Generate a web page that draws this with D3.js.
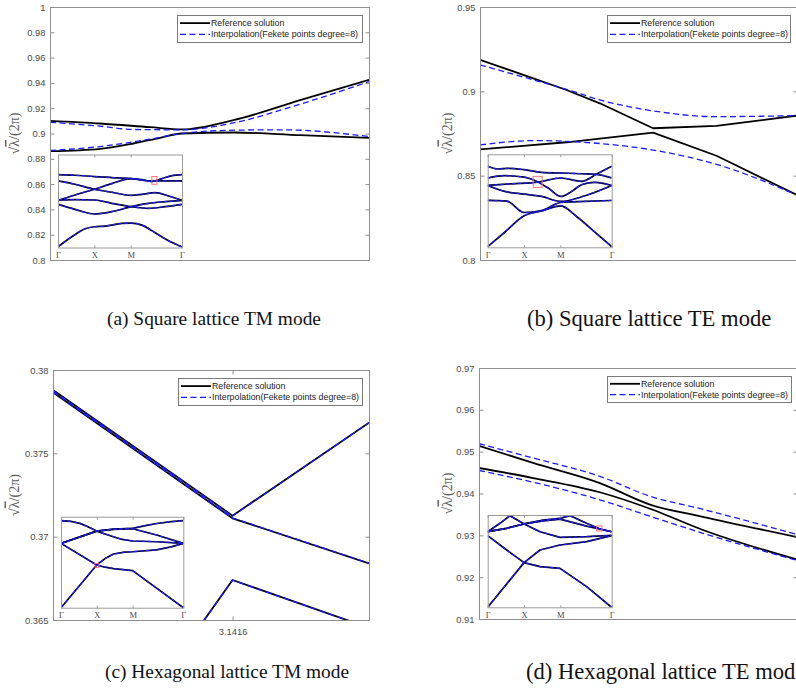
<!DOCTYPE html>
<html><head><meta charset="utf-8">
<script src="https://cdn.jsdelivr.net/npm/d3@7"></script>
<style>body{margin:0;background:#fff}svg{display:block}</style>
</head><body>
<svg id="c" width="796" height="700"></svg>
<script>
// ================= DATA =================
const legendLabels = ["Reference solution", "Interpolation(Fekete points degree=8)"];
const captionLabels = ["(a) Square lattice TM mode", "(b) Square lattice TE mode",
                       "(c) Hexagonal lattice TM mode", "(d) Hexagonal lattice TE mode"];
const insetTickLabels = ["Γ", "X", "M", "Γ"];
const insetTickValues = [0, 0.293, 0.586, 1];

const yTicksA = [0.8, 0.82, 0.84, 0.86, 0.88, 0.9, 0.92, 0.94, 0.96, 0.98, 1];
const yTicksB = [0.8, 0.85, 0.9, 0.95];
const yTicksC = [0.365, 0.37, 0.375, 0.38];
const yTicksD = [0.91, 0.92, 0.93, 0.94, 0.95, 0.96, 0.97];
const xTicksC = [3.1416];

// (a) square TM, zoomed window (x = fraction of window)
const aRefUpper = [[0,0.910],[0.157,0.9079],[0.313,0.905],[0.413,0.9032],[0.575,0.9105],[0.784,0.9263],[1,0.9424]];
const aRefLower = [[0,0.886],[0.157,0.8879],[0.261,0.8921],[0.345,0.8966],[0.413,0.900],[0.575,0.9008],[0.784,0.8987],[1,0.8966]];
const aIntUpper = [[0,0.9089],[0.157,0.9058],[0.261,0.9032],[0.413,0.9029],[0.575,0.9084],[0.784,0.9232],[1,0.941]];
const aIntLower = [[0,0.8866],[0.157,0.8897],[0.313,0.8955],[0.413,0.900],[0.575,0.9026],[0.731,0.9029],[1,0.8976]];

// (b) square TE
const bRefA = [[0,0.9187],[0.168,0.9077],[0.273,0.9008],[0.378,0.8929],[0.546,0.8781],[0.746,0.8795],[1,0.8856]];
const bRefB = [[0,0.8656],[0.273,0.8698],[0.546,0.8755],[0.746,0.8618],[1,0.8385]];
const bIntUpper = [[0,0.9157],[0.168,0.9068],[0.273,0.9012],[0.378,0.8949],[0.546,0.8884],[0.746,0.885],[1,0.8856]];
const bIntLower = [[0,0.8682],[0.168,0.8708],[0.326,0.8698],[0.546,0.8652],[0.746,0.8567],[1,0.8385]];

// (c) hexagonal TM (x = wave number)
const cRefUpper  = [[3.0416,0.37880],[3.1416,0.37126],[3.2176,0.37684]];
const cRefMiddle = [[3.0416,0.37866],[3.1416,0.37110],[3.2176,0.36840]];
const cRefLower  = [[3.11,0.36259],[3.1416,0.36740],[3.2176,0.36453]];
const cIntUpper  = [[3.0416,0.37877],[3.1416,0.37124],[3.2176,0.37684]];
const cIntMiddle = [[3.0416,0.37869],[3.1416,0.37112],[3.2176,0.36841]];
const cIntLower  = [[3.11,0.36259],[3.1416,0.36739],[3.2176,0.36453]];

// (d) hexagonal TE
const dRefUpper = [[0,0.9514],[0.17,0.9473],[0.38,0.9425],[0.54,0.9373],[0.70,0.9345],[1,0.9296]];
const dRefLower = [[0,0.9461],[0.17,0.9437],[0.38,0.9403],[0.54,0.9363],[0.70,0.9314],[1,0.9242]];
const dIntUpper = [[0,0.9519],[0.17,0.9485],[0.38,0.9441],[0.54,0.9393],[0.70,0.9363],[1,0.9302]];
const dIntLower = [[0,0.9455],[0.17,0.9427],[0.38,0.9385],[0.54,0.9345],[0.70,0.9306],[1,0.924]];

// insets: full band structures Γ-X-M-Γ (normalised path, normalised frequency)
const insetBandsA = [
  [[0,0.007],[0.111,0.115],[0.218,0.201],[0.294,0.223],[0.380,0.230],[0.515,0.259],[0.590,0.263],[0.677,0.241],[0.784,0.158],[0.892,0.072],[1,0.007]],
  [[0,0.464],[0.137,0.410],[0.294,0.360],[0.434,0.385],[0.590,0.439],[0.730,0.475],[0.865,0.493],[1,0.507]],
  [[0,0.511],[0.137,0.514],[0.294,0.511],[0.434,0.475],[0.590,0.439],[0.730,0.421],[0.865,0.439],[1,0.464]],
  [[0,0.507],[0.137,0.565],[0.294,0.626],[0.434,0.687],[0.590,0.741],[0.677,0.723],[0.757,0.716],[0.865,0.716],[1,0.716]],
  [[0,0.716],[0.137,0.680],[0.294,0.626],[0.434,0.594],[0.590,0.561],[0.677,0.572],[0.784,0.590],[0.892,0.554],[1,0.507]],
  [[0,0.784],[0.137,0.777],[0.294,0.763],[0.434,0.752],[0.590,0.741],[0.677,0.730],[0.757,0.709],[0.838,0.741],[0.919,0.773],[1,0.784]]
];
const insetBandsB = [
  [[0,0.007],[0.137,0.162],[0.294,0.338],[0.434,0.390],[0.590,0.446],[0.717,0.331],[0.85,0.18],[1,0.007]],
  [[0,0.504],[0.154,0.497],[0.294,0.374],[0.434,0.395],[0.590,0.482],[0.784,0.493],[1,0.504]],
  [[0,0.665],[0.137,0.601],[0.294,0.572],[0.434,0.547],[0.590,0.493],[0.784,0.554],[1,0.665]],
  [[0,0.665],[0.191,0.683],[0.407,0.701],[0.590,0.745],[0.757,0.709],[0.879,0.788],[1,0.871]],
  [[0,0.745],[0.137,0.770],[0.294,0.755],[0.380,0.719],[0.488,0.637],[0.590,0.547],[0.677,0.601],[0.757,0.673],[0.865,0.698],[1,0.665]],
  [[0,0.871],[0.084,0.842],[0.164,0.849],[0.294,0.835],[0.434,0.806],[0.590,0.799],[0.757,0.791],[0.879,0.784],[1,0.745]]
];
const insetBandsC = [
  [[0,0],[0.292,0.469],[0.36,0.54],[0.43,0.59],[0.52,0.61],[0.586,0.615],[0.782,0.636],[0.9,0.668],[1,0.707]],
  [[0,0.707],[0.292,0.469],[0.36,0.445],[0.43,0.43],[0.586,0.407],[1,0]],
  [[0,0.707],[0.292,0.842],[0.428,0.864],[0.586,0.872],[0.70,0.905],[0.782,0.925],[0.9,0.945],[1,0.956]],
  [[0,0.956],[0.08,0.948],[0.155,0.927],[0.22,0.89],[0.292,0.842],[0.36,0.81],[0.428,0.780],[0.5,0.75],[0.586,0.733],[0.782,0.725],[1,0.707]],
  [[0,0.707],[0.292,0.842],[0.428,0.860],[0.586,0.868],[0.782,0.799],[1,0.707]]
];
const insetBandsD = [
  [[0,0],[0.293,0.484],[0.422,0.440],[0.583,0.422],[0.798,0.224],[1,0]],
  [[0,0.776],[0.153,0.621],[0.293,0.484],[0.422,0.621],[0.583,0.675],[0.798,0.711],[1,0.776]],
  [[0,0.819],[0.099,0.910],[0.180,0.993],[0.293,0.903],[0.422,0.819],[0.583,0.758],[0.798,0.765],[1,0.78]],
  [[0,0.819],[0.153,0.856],[0.293,0.903],[0.449,0.946],[0.583,0.964],[0.664,0.993],[0.798,0.910],[0.906,0.848],[1,0.819]],
  [[0,0.819],[0.153,0.856],[0.293,0.903],[0.449,0.935],[0.583,0.955],[0.798,0.880],[1,0.819]]
];
// zoom window markers inside insets [u0,u1,v0,v1]
const zoomBoxA = [0.757, 0.798, 0.680, 0.763];
const zoomBoxB = [0.367, 0.439, 0.644, 0.763];
const zoomBoxC = [0.278, 0.311, 0.443, 0.487];
const zoomBoxD = [0.879, 0.922, 0.827, 0.881];

// ================= DRAWING =================
const svg = d3.select("#c");
const SANS = "'Liberation Sans', Arial, sans-serif";
const SERIF = "'Liberation Serif', 'Times New Roman', serif";
const AX = "#8f8f8f", TXT = "#4a4a4a", BLUE = "#1a1aff";
const fmt = d => String(+d.toFixed(4));

function styleRef(p){ p.attr("fill","none").attr("stroke","#000").attr("stroke-width",1.8).attr("stroke-linejoin","round"); }
function styleInt(p){ p.attr("fill","none").attr("stroke",BLUE).attr("stroke-width",1.3).attr("stroke-dasharray","6,3.5"); }

function drawPanel(cfg, idx){
  const g = svg.append("g");
  const x = d3.scaleLinear().domain(cfg.xDomain).range([cfg.x0, cfg.x1]);
  const y = d3.scaleLinear().domain(cfg.yDomain).range([cfg.y1, cfg.y0]);
  const cid = "clip" + idx;
  svg.append("clipPath").attr("id", cid).append("rect")
    .attr("x", cfg.x0).attr("y", cfg.y0).attr("width", cfg.x1 - cfg.x0).attr("height", cfg.y1 - cfg.y0);

  const lg = g.append("g").attr("clip-path", `url(#${cid})`);
  cfg.series.forEach(s => {
    const line = d3.line().x(d => x(d[0])).y(d => y(d[1])).curve(s.curve || d3.curveLinear);
    const p = lg.append("path").attr("d", line(s.data));
    if (s.kind === "ref") styleRef(p); else styleInt(p);
  });

  g.append("rect").attr("x", cfg.x0 + 0.5).attr("y", cfg.y0 + 0.5)
    .attr("width", cfg.x1 - cfg.x0).attr("height", cfg.y1 - cfg.y0)
    .attr("fill", "none").attr("stroke", AX).attr("stroke-width", 1);

  const yl = g.append("g").attr("transform", `translate(${cfg.x0 + 0.5},0)`)
    .call(d3.axisLeft(y).tickValues(cfg.yTicks).tickFormat(fmt).tickSizeInner(-4).tickSizeOuter(0).tickPadding(5));
  const yr = g.append("g").attr("transform", `translate(${cfg.x1 + 0.5},0)`)
    .call(d3.axisRight(y).tickValues(cfg.yTicks).tickFormat("").tickSizeInner(-4).tickSizeOuter(0));
  [yl, yr].forEach(a => { a.select(".domain").remove(); a.selectAll("line").attr("stroke", AX); });
  yl.selectAll("text").attr("font-family", SANS).attr("font-size", 9.4).attr("fill", TXT);
  if (cfg.xTicks) {
    const xb = g.append("g").attr("transform", `translate(0,${cfg.y1 + 0.5})`)
      .call(d3.axisBottom(x).tickValues(cfg.xTicks).tickFormat(fmt).tickSizeInner(-4).tickSizeOuter(0).tickPadding(8));
    const xt = g.append("g").attr("transform", `translate(0,${cfg.y0 + 0.5})`)
      .call(d3.axisTop(x).tickValues(cfg.xTicks).tickFormat("").tickSizeInner(-4).tickSizeOuter(0));
    [xb, xt].forEach(a => { a.select(".domain").remove(); a.selectAll("line").attr("stroke", AX); });
    xb.selectAll("text").attr("font-family", SANS).attr("font-size", 9.4).attr("fill", TXT);
  }

  const yc = (cfg.y0 + cfg.y1) / 2;
  const t = g.append("text").attr("transform", `translate(${cfg.labelX},${yc}) rotate(-90)`)
    .attr("text-anchor", "middle").attr("dominant-baseline", "central")
    .attr("font-family", SERIF).attr("font-size", 14).attr("fill", "#5a5a5a");
  t.append("tspan").text("√");
  t.append("tspan").attr("style", "text-decoration: overline").text("λ");
  t.append("tspan").text("/(2π)");

  const L = cfg.legend;
  const leg = g.append("g");
  leg.append("rect").attr("x", L.x + 0.5).attr("y", L.y + 0.5).attr("width", L.w).attr("height", L.h)
    .attr("fill", "#fff").attr("stroke", "#7a7a7a").attr("stroke-width", 1);
  legendLabels.forEach((lab, i) => {
    const ry = L.y + L.h * (i === 0 ? 0.3 : 0.72);
    const p = leg.append("line").attr("x1", L.x + 3).attr("x2", L.x + 33).attr("y1", ry).attr("y2", ry);
    if (i === 0) p.attr("stroke", "#000").attr("stroke-width", 1.8);
    else p.attr("stroke", BLUE).attr("stroke-width", 1.3).attr("stroke-dasharray", "6,3.5");
    leg.append("text").attr("x", L.x + 34).attr("y", ry).attr("dominant-baseline", "central")
      .attr("font-family", SANS).attr("font-size", 8.8).attr("fill", "#222").text(lab);
  });

  const I = cfg.inset;
  const ix = d3.scaleLinear().domain([0, 1]).range([I.x, I.x + I.w]);
  const iy = d3.scaleLinear().domain([0, 1]).range([I.y + I.h, I.y]);
  const ig = g.append("g");
  ig.append("rect").attr("x", I.x).attr("y", I.y).attr("width", I.w).attr("height", I.h).attr("fill", "#fff");
  const icid = "iclip" + idx;
  svg.append("clipPath").attr("id", icid).append("rect").attr("x", I.x).attr("y", I.y).attr("width", I.w).attr("height", I.h);
  const ib = ig.append("g").attr("clip-path", `url(#${icid})`);
  const iline = d3.line().x(d => ix(d[0])).y(d => iy(d[1])).curve(I.curve);
  I.bands.forEach(b => ib.append("path").attr("d", iline(b)).attr("fill", "none")
    .attr("stroke", "#000").attr("stroke-width", 1.7).attr("stroke-linejoin", "round"));
  I.bands.forEach(b => ib.append("path").attr("d", iline(b)).attr("fill", "none")
    .attr("stroke", BLUE).attr("stroke-width", 1.3).attr("stroke-dasharray", "4,2"));
  const zb = I.zoom;
  ig.append("rect").attr("x", ix(zb[0])).attr("y", iy(zb[3])).attr("width", ix(zb[1]) - ix(zb[0]))
    .attr("height", iy(zb[2]) - iy(zb[3])).attr("fill", "none").attr("stroke", "#ff6b6b").attr("stroke-width", 0.9);
  ig.append("rect").attr("x", I.x + 0.5).attr("y", I.y + 0.5).attr("width", I.w).attr("height", I.h)
    .attr("fill", "none").attr("stroke", "#9a9a9a").attr("stroke-width", 1);
  const ib2 = ig.append("g").attr("transform", `translate(0,${I.y + I.h + 0.5})`)
    .call(d3.axisBottom(ix).tickValues(insetTickValues).tickFormat((d, i) => insetTickLabels[i]).tickSizeInner(-2.5).tickSizeOuter(0).tickPadding(4));
  const it2 = ig.append("g").attr("transform", `translate(0,${I.y + 0.5})`)
    .call(d3.axisTop(ix).tickValues(insetTickValues).tickFormat("").tickSizeInner(-2.5).tickSizeOuter(0));
  [ib2, it2].forEach(a => { a.select(".domain").remove(); a.selectAll("line").attr("stroke", "#9a9a9a"); });
  ib2.selectAll("text").attr("font-family", SERIF).attr("font-size", 8.5).attr("fill", TXT);

  svg.append("text").attr("x", cfg.capX).attr("y", cfg.capY)
    .attr("font-family", SERIF).attr("font-size", cfg.capSize).attr("fill", "#111").text(captionLabels[idx]);
}

const smooth = d3.curveMonotoneX;
const panels = [
  { x0: 50, x1: 369, y0: 7, y1: 260, xDomain: [0, 1], yDomain: [0.8, 1], yTicks: yTicksA, labelX: 14,
    series: [
      { data: aRefUpper, kind: "ref", curve: smooth }, { data: aRefLower, kind: "ref", curve: smooth },
      { data: aIntUpper, kind: "int", curve: smooth }, { data: aIntLower, kind: "int", curve: smooth } ],
    legend: { x: 177, y: 15, w: 185, h: 27 },
    inset: { x: 58, y: 154.5, w: 124, h: 93, bands: insetBandsA, zoom: zoomBoxA, curve: smooth },
    capX: 107, capY: 325, capSize: 19.4 },
  { x0: 480, x1: 797, y0: 7, y1: 260, xDomain: [0, 1], yDomain: [0.8, 0.95], yTicks: yTicksB, labelX: 446.5,
    series: [
      { data: bRefA, kind: "ref" }, { data: bRefB, kind: "ref" },
      { data: bIntUpper, kind: "int", curve: smooth }, { data: bIntLower, kind: "int", curve: smooth } ],
    legend: { x: 607, y: 15, w: 183, h: 27 },
    inset: { x: 487.7, y: 154.3, w: 124, h: 93, bands: insetBandsB, zoom: zoomBoxB, curve: smooth },
    capX: 527, capY: 326, capSize: 22.6 },
  { x0: 53, x1: 369, y0: 370, y1: 620, xDomain: [3.0416, 3.2176], yDomain: [0.365, 0.38], yTicks: yTicksC, xTicks: xTicksC, labelX: 13.5,
    series: [
      { data: cRefUpper, kind: "ref" }, { data: cRefMiddle, kind: "ref" }, { data: cRefLower, kind: "ref" },
      { data: cIntUpper, kind: "int" }, { data: cIntMiddle, kind: "int" }, { data: cIntLower, kind: "int" } ],
    legend: { x: 178, y: 378, w: 184, h: 27 },
    inset: { x: 61, y: 516.7, w: 122.3, h: 91, bands: insetBandsC, zoom: zoomBoxC, curve: d3.curveLinear },
    capX: 105, capY: 678, capSize: 19.4 },
  { x0: 479, x1: 797, y0: 368, y1: 619, xDomain: [0, 1], yDomain: [0.91, 0.97], yTicks: yTicksD, labelX: 446.5,
    series: [
      { data: dRefUpper, kind: "ref", curve: smooth }, { data: dRefLower, kind: "ref", curve: smooth },
      { data: dIntUpper, kind: "int", curve: smooth }, { data: dIntLower, kind: "int", curve: smooth } ],
    legend: { x: 607, y: 376, w: 184, h: 26 },
    inset: { x: 487.7, y: 515, w: 124, h: 92.3, bands: insetBandsD, zoom: zoomBoxD, curve: d3.curveLinear },
    capX: 526, capY: 679, capSize: 22.6 }
];
panels.forEach(drawPanel);
</script>
</body></html>
